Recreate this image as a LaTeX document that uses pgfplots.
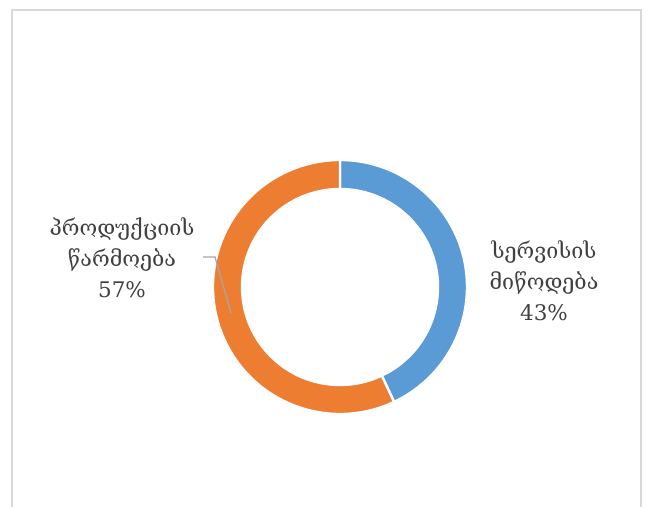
\documentclass[border=0pt]{standalone}
\usepackage{pgfplots}
\usepackage{pgfplotstable}
\pgfplotsset{compat=1.18}
\usetikzlibrary{calc}
\usepackage{fontspec}
\setmainfont{DejaVu Serif}
\definecolor{cblue}{HTML}{5B9BD5}
\definecolor{corange}{HTML}{ED7D31}
\definecolor{ctext}{HTML}{404040}
\definecolor{cframe}{HTML}{D9D9D9}
\definecolor{cleader}{HTML}{A6A6A6}
\pgfplotstableread{
share
43
57
}\sharetable
\begin{document}
\begin{tikzpicture}
\pgfplotstablegetelem{0}{share}\of\sharetable \let\va\pgfplotsretval
\pgfplotstablegetelem{1}{share}\of\sharetable \let\vb\pgfplotsretval
\pgfmathsetmacro{\aA}{90}
\pgfmathsetmacro{\aB}{90-3.6*\va}
\pgfmathsetmacro{\aC}{\aB-3.6*\vb}
\begin{axis}[
  scale only axis, width=648bp, height=507bp,
  xmin=0, xmax=648, ymin=0, ymax=507,
  hide axis, clip=false,
]
% frame
\draw[cframe, line width=1.3bp] (axis cs:12,0) -- (axis cs:12,497) -- (axis cs:641,497) -- (axis cs:641,0);
% donut slices
\fill[cblue, draw=white, line width=2.4bp] (axis cs:340,220) ++(\aA:127bp) arc[start angle=\aA, end angle=\aB, radius=127bp]
  -- ($(axis cs:340,220)+(\aB:98bp)$) arc[start angle=\aB, end angle=\aA, radius=98bp] -- cycle;
\fill[corange, draw=white, line width=2.4bp] (axis cs:340,220) ++(\aB:127bp) arc[start angle=\aB, end angle=\aC, radius=127bp]
  -- ($(axis cs:340,220)+(\aC:98bp)$) arc[start angle=\aC, end angle=\aB, radius=98bp] -- cycle;
% leader line
\draw[cleader, line width=1.3bp] (axis cs:203,250) -- (axis cs:215,250) -- (axis cs:231,194);
% labels
\node[ctext, align=center, font=\fontsize{21.5bp}{31bp}\selectfont] at (axis cs:122,249) {პროდუქციის\\წარმოება\\57\%};
\node[ctext, align=center, font=\fontsize{21.5bp}{31bp}\selectfont] at (axis cs:544,226) {სერვისის\\მიწოდება\\43\%};
\end{axis}
\pgfresetboundingbox
\useasboundingbox (current axis.south west) rectangle (current axis.north east);
\end{tikzpicture}
\end{document}
